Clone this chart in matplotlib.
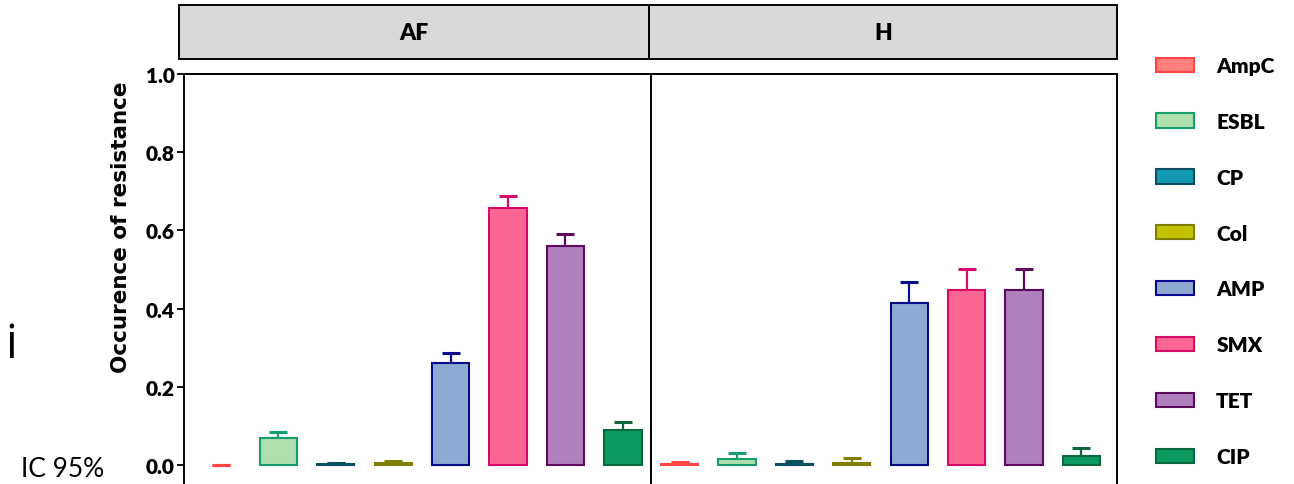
import numpy as np
import matplotlib.pyplot as plt
from matplotlib.patches import Patch, Rectangle

# resistance categories, in plotting order
genes = ['AmpC', 'ESBL', 'CP', 'Col', 'AMP', 'SMX', 'TET', 'CIP']
fills = ['#ff7f7f', '#ade0ad', '#1398b2', '#c2c200', '#8eaad2', '#fc6694', '#b07fbf', '#0a9a62']
edges = ['#ff4545', '#179e6c', '#0b4f63', '#7f7f00', '#0a0a8c', '#d60a6a', '#5e0a5e', '#0c6a3e']

# occurrence of resistance and upper 95% CI half-width, per panel
af_occ = [0.0, 0.068, 0.003, 0.005, 0.260, 0.658, 0.559, 0.090]
af_err = [0.0, 0.016, 0.002, 0.006, 0.026, 0.030, 0.032, 0.020]
h_occ = [0.002, 0.015, 0.003, 0.006, 0.414, 0.448, 0.448, 0.024]
h_err = [0.006, 0.016, 0.006, 0.012, 0.053, 0.053, 0.053, 0.019]

panels = ['AF', 'H']
yticks = [0.0, 0.2, 0.4, 0.6, 0.8, 1.0]

W, H = 1294, 485
fig = plt.figure(figsize=(W / 100, H / 100), dpi=100)

def fx(px):
    return px / W

def fy(py):
    return 1 - py / H

top, bot = 75, 489.5
ax_af = fig.add_axes([fx(184), fy(bot), fx(651 - 184), (bot - top) / H])
ax_h = fig.add_axes([fx(651), fy(bot), fx(1117 - 651), (bot - top) / H])

x = np.arange(len(genes))
lw = 1.5
for ax, occ, err, xl in [(ax_af, af_occ, af_err, (-0.645, 7.49)),
                         (ax_h, h_occ, h_err, (-0.497, 7.62))]:
    for i in range(len(genes)):
        ax.errorbar(x[i], occ[i], yerr=[[0], [err[i]]], fmt='none',
                    ecolor=edges[i], elinewidth=1.6, capsize=6.8, capthick=2.2,
                    zorder=1)
        ax.bar(x[i], occ[i], width=0.65, color=fills[i], edgecolor=edges[i],
               linewidth=lw if occ[i] > 0 else 0, zorder=2)
    ax.set_xlim(*xl)
    ax.set_ylim(1 - (bot - top) / 391, 1.0)
    ax.set_xticks([])
    ax.spines['bottom'].set_visible(False)
    for s in ['left', 'top', 'right']:
        ax.spines[s].set_linewidth(1.4)

ax_af.set_yticks(yticks)
ax_af.set_yticklabels(['%.1f' % t for t in yticks], family='Lato',
                      fontweight='heavy', fontsize=15)
ax_af.tick_params(axis='y', length=5, width=1.3, pad=1.5)
ax_h.set_yticks([])

# facet strips
for name, x0, x1 in [('AF', 179, 649), ('H', 649, 1117)]:
    fig.add_artist(Rectangle((fx(x0), fy(60)), fx(x1 - x0), (60 - 6) / H,
                             transform=fig.transFigure, facecolor='#d9d9d9',
                             edgecolor='black', linewidth=1.4))
    fig.text(fx((x0 + x1) / 2), fy(33), name, ha='center', va='center',
             family='Lato', fontweight='heavy', fontsize=16.5)

fig.text(fx(121), fy(227), 'Occurence of resistance', rotation=90,
         ha='center', va='center', family='DejaVu Sans', fontweight='bold',
         fontsize=15.5)

handles = [Patch(facecolor=f, edgecolor=e, linewidth=1.5) for f, e in zip(fills, edges)]
leg = fig.legend(handles, genes, loc='upper left', bbox_to_anchor=(fx(1156), fy(57)),
                 frameon=False, borderpad=0, borderaxespad=0,
                 handlelength=1.83, handleheight=0.67, handletextpad=1.06,
                 labelspacing=1.77, prop={'family': 'Lato', 'weight': 'heavy', 'size': 15})

fig.text(fx(17), fy(358), 'i', ha='right', va='baseline', family='Open Sans',
         fontweight='normal', fontsize=33.5)
fig.text(fx(21), fy(477), 'IC 95%', ha='left', va='baseline', family='Lato', fontsize=19)

fig.savefig('out.png', dpi=100)
